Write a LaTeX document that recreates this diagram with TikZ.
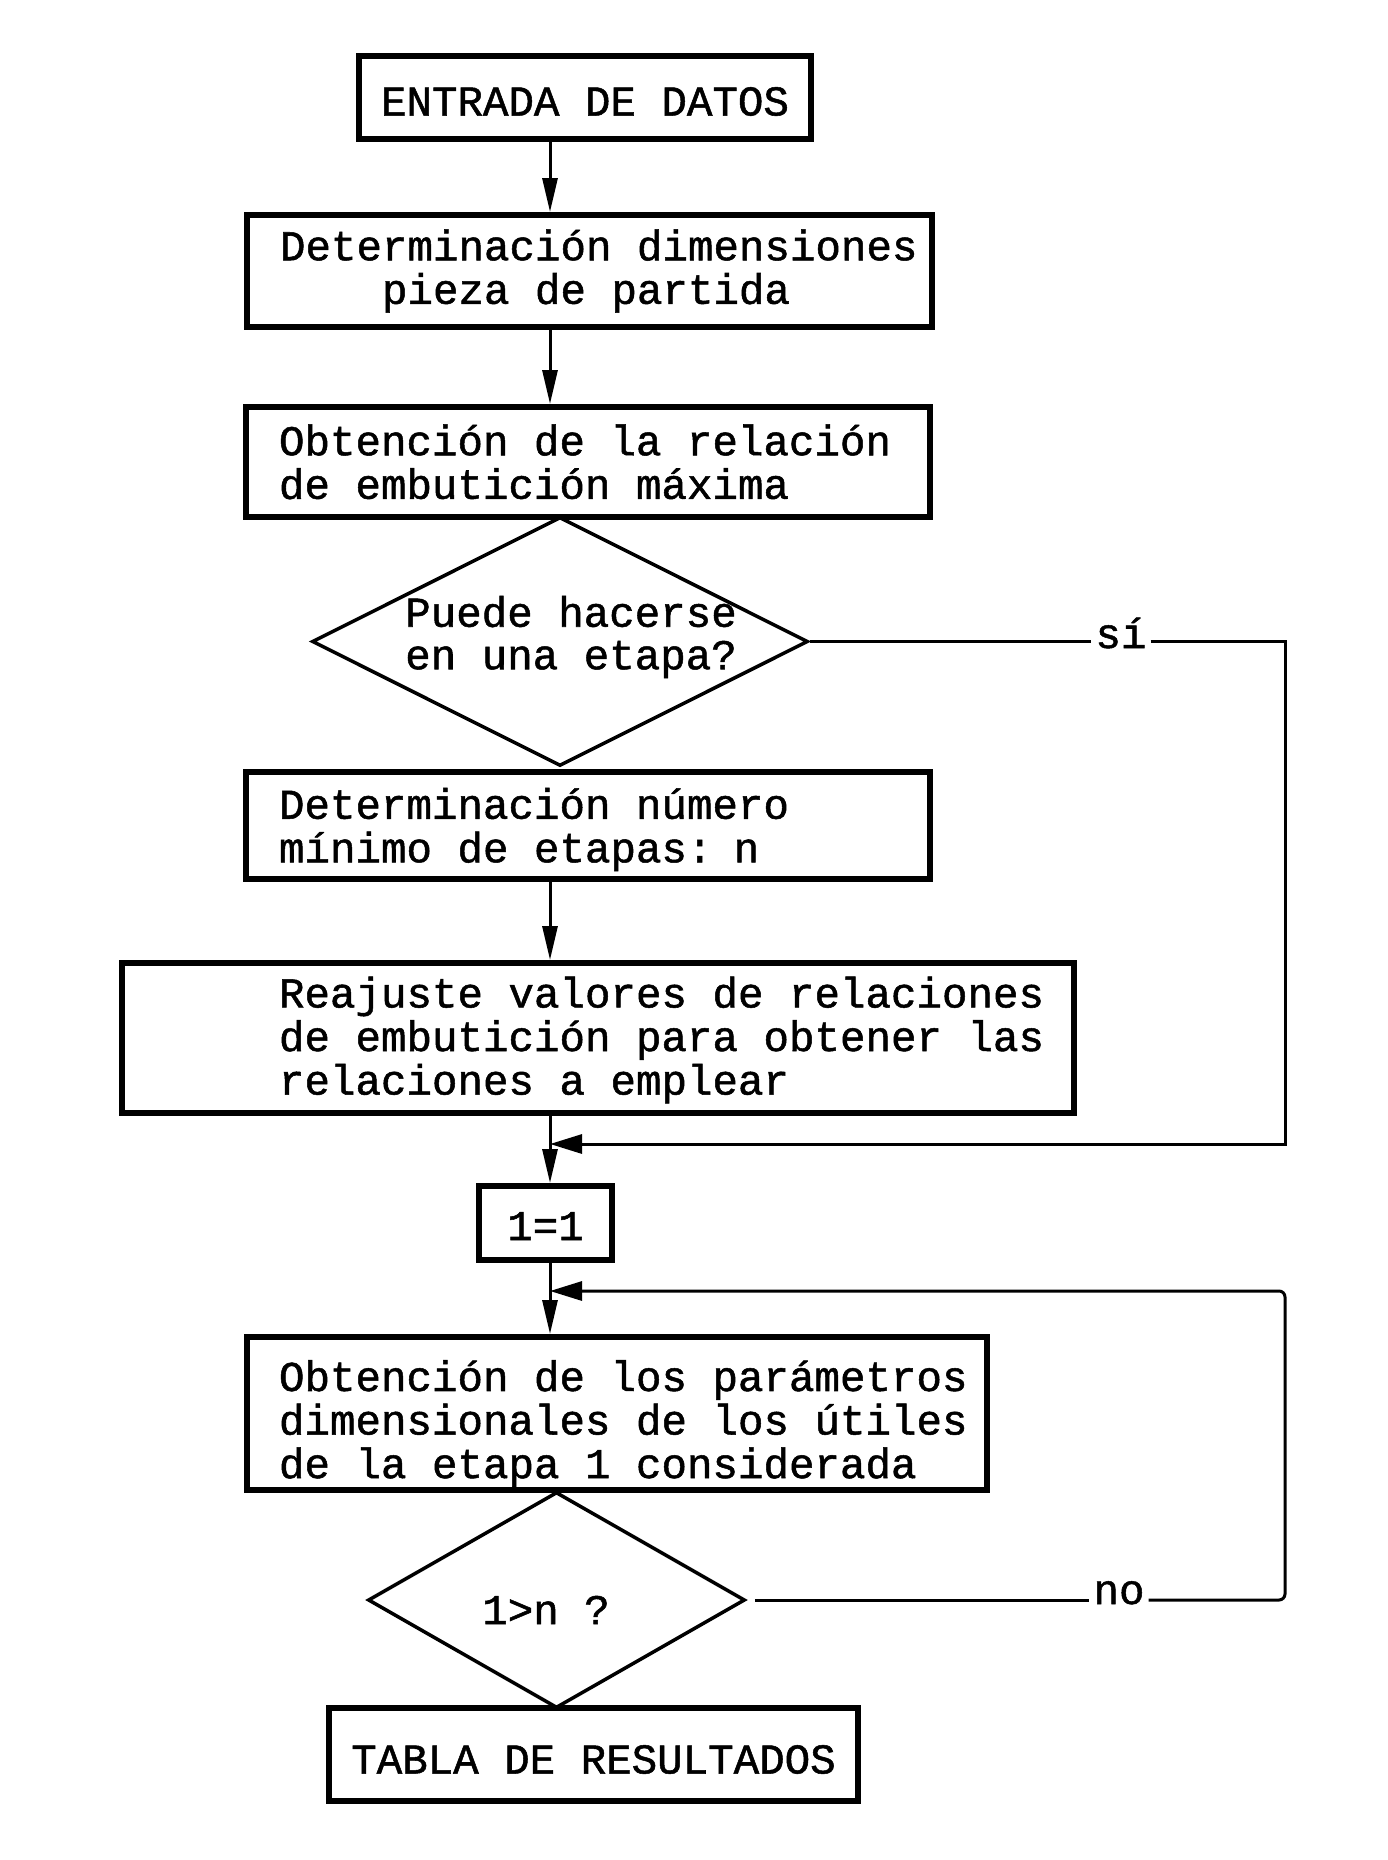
\documentclass[tikz,border=0pt]{standalone}
\usepackage{fontspec}
\setmainfont{Liberation Mono}[FakeBold=1.2]
\setmonofont{Liberation Mono}[FakeBold=1.2]
\usetikzlibrary{shapes.geometric,arrows.meta}
\newcommand\mydown[2]{\raisebox{-#1}[\height][\depth]{#2}}
\newcommand\mylines[3]{\hspace*{#1}\mydown{#2}{\begin{tabular}{@{}l@{}}#3\end{tabular}}}
\begin{document}
\begin{tikzpicture}[x=1pt,y=-1pt,
  font=\fontsize{42.5pt}{42.5pt}\selectfont,
  every node/.append style={execute at begin node={\spaceskip=25.5pt\relax}},
  box/.style={draw, line width=6pt, inner xsep=0pt, inner ysep=0pt},
  dec/.style={draw, diamond, line width=3.5pt, inner sep=0pt},
  conn/.style={line width=3pt},
  arr/.style={conn, -{Triangle[length=34pt,width=15pt]}},
  harr/.style={conn, -{Triangle[length=32pt,width=19pt]}},
  lab/.style={inner sep=4pt, anchor=base},
]
\useasboundingbox[fill=white] (0,0) rectangle (1388,1860);
\coordinate (sp) at (550,0);

\node[box, text width=452pt, minimum height=83pt, align=center] (b1) at (585,97.5) {\mydown{4pt}{ENTRADA DE DATOS}};
\node[box, text width=685pt, minimum height=112pt, align=left] (b2) at (589.5,271) {\mylines{33pt}{2pt}{Determinación dimensiones\\\hspace*{102pt}pieza de partida}};
\node[box, text width=684pt, minimum height=110pt, align=left] (b3) at (588,462) {\mylines{33pt}{6pt}{Obtención de la relación\\de embutición máxima}};
\node[dec, minimum width=496pt, minimum height=249pt] (d1) at (560,641.5) {};
\node[align=left] (d1t) at (571,637) {Puede hacerse\\en una etapa?};
\node[box, text width=684pt, minimum height=107pt, align=left] (b4) at (588,825.5) {\mylines{33pt}{6pt}{Determinación número\\mínimo de etapas: n}};
\node[box, text width=952pt, minimum height=150pt, align=left] (b5) at (598,1038) {\mylines{157pt}{4pt}{Reajuste valores de relaciones\\de embutición para obtener las\\relaciones a emplear}};
\node[box, text width=133pt, minimum height=74pt, align=center] (b6) at (545.5,1223) {\mydown{3pt}{1=1}};
\node[box, text width=740pt, minimum height=153pt, align=left] (b7) at (617,1413.5) {\mylines{32pt}{12pt}{Obtención de los parámetros\\dimensionales de los útiles\\de la etapa 1 considerada}};
\node[dec, minimum width=377pt, minimum height=216pt] (d2) at (556.5,1600) {};
\node (d2t) at (546,1610) {1>n ?};
\node[box, text width=529pt, minimum height=93pt, align=center] (b8) at (593.5,1754.5) {\mydown{5pt}{TABLA DE RESULTADOS}};

% main spine
\draw[arr] (b1.south -| sp) -- (b2.north -| sp);
\draw[arr] (b2.south -| sp) -- (b3.north -| sp);
\draw[arr] (b4.south -| sp) -- (b5.north -| sp);
\draw[arr] (b5.south -| sp) -- (b6.north -| sp);
\draw[arr] (b6.south -| sp) -- (b7.north -| sp);

% yes branch
\node[lab] (si) at (1121,648) {sí};
\coordinate (ya) at (1285,1144);
\draw[conn] (d1.east) -- (d1.east -| si.west);
\draw[harr] (si.east |- d1.east) -| (ya) -- (ya -| sp);

% no branch
\node[lab] (no) at (1119,1604) {no};
\coordinate (yb) at (1285,1291);
\draw[conn] ([xshift=8pt]d2.east) -- (d2.east -| no.west);
\draw[harr, rounded corners=6pt] (no.east |- d2.east) -| (yb) -- (yb -| sp);
\end{tikzpicture}
\end{document}
